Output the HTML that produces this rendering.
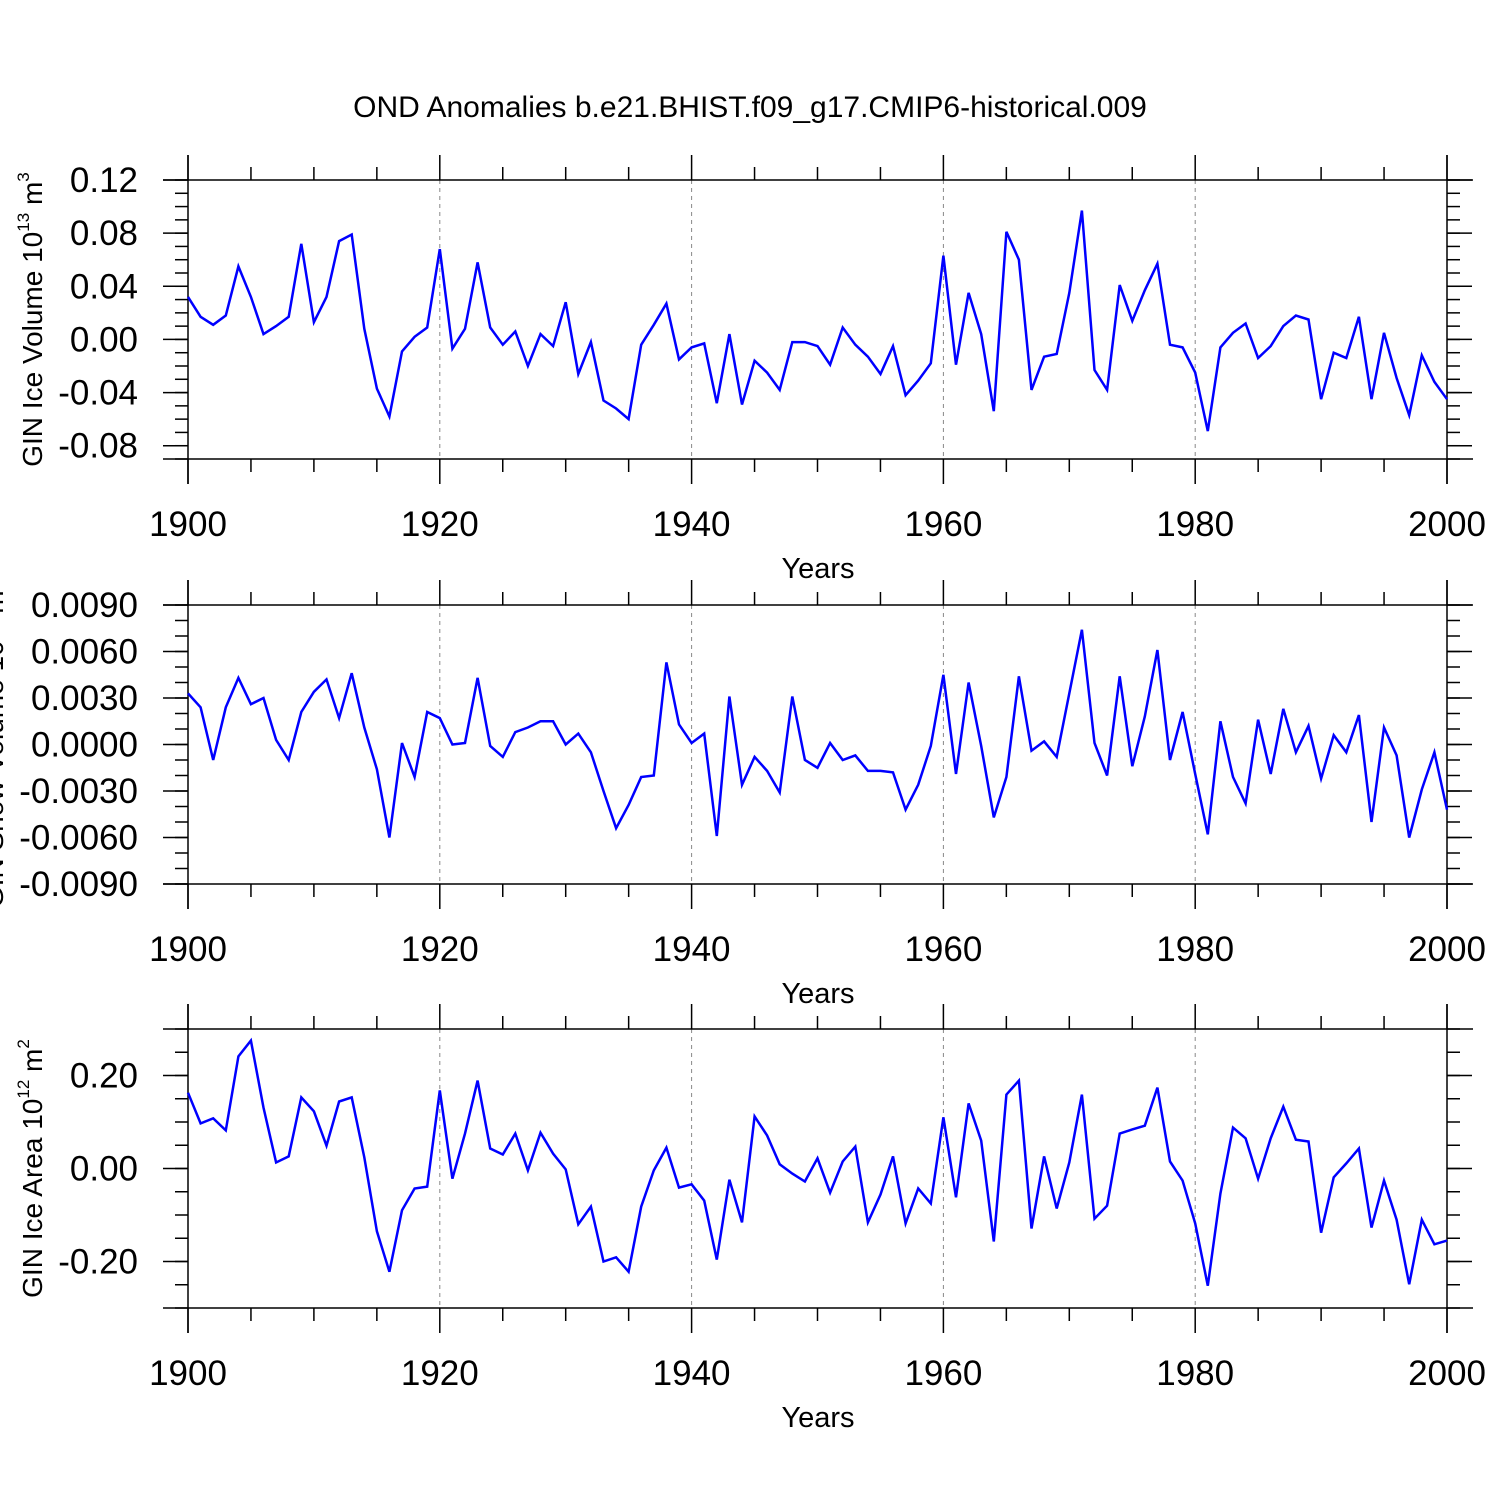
<!DOCTYPE html>
<html><head><meta charset="utf-8"><style>
html,body{margin:0;padding:0;background:#fff;}
svg{display:block;font-family:"Liberation Sans",Arial,sans-serif;}
</style></head><body>
<svg id="chart" width="1500" height="1500" viewBox="0 0 1500 1500" xmlns="http://www.w3.org/2000/svg">
<rect width="1500" height="1500" fill="#fff"/>
<text x="750" y="117" font-size="30" text-anchor="middle">OND Anomalies b.e21.BHIST.f09_g17.CMIP6-historical.009</text>
</svg>
<script>
const years = [];
for (let y = 1900; y <= 2000; y++) years.push(y);
const iceVolume = [0.032,0.017,0.011,0.018,0.055,0.032,0.004,0.010,0.017,0.072,0.013,0.032,0.074,0.079,0.008,-0.037,-0.058,-0.009,0.002,0.009,0.068,-0.007,0.008,0.058,0.009,-0.004,0.006,-0.020,0.004,-0.005,0.028,-0.026,-0.002,-0.046,-0.052,-0.060,-0.004,0.011,0.027,-0.015,-0.006,-0.003,-0.048,0.004,-0.049,-0.016,-0.025,-0.038,-0.002,-0.002,-0.005,-0.019,0.009,-0.004,-0.013,-0.026,-0.005,-0.042,-0.031,-0.018,0.063,-0.019,0.035,0.004,-0.054,0.081,0.060,-0.038,-0.013,-0.011,0.035,0.097,-0.023,-0.038,0.041,0.014,0.037,0.057,-0.004,-0.006,-0.025,-0.069,-0.006,0.005,0.012,-0.014,-0.005,0.010,0.018,0.015,-0.045,-0.010,-0.014,0.017,-0.045,0.005,-0.029,-0.057,-0.012,-0.032,-0.045];
const snowVolume = [0.0033,0.0024,-0.0010,0.0024,0.0043,0.0026,0.0030,0.0003,-0.0010,0.0021,0.0034,0.0042,0.0017,0.0046,0.0011,-0.0016,-0.0060,0.0001,-0.0021,0.0021,0.0017,0.0000,0.0001,0.0043,-0.0001,-0.0008,0.0008,0.0011,0.0015,0.0015,0.0000,0.0007,-0.0005,-0.0030,-0.0054,-0.0039,-0.0021,-0.0020,0.0053,0.0013,0.0001,0.0007,-0.0059,0.0031,-0.0026,-0.0008,-0.0017,-0.0031,0.0031,-0.0010,-0.0015,0.0001,-0.0010,-0.0007,-0.0017,-0.0017,-0.0018,-0.0042,-0.0026,-0.0001,0.0045,-0.0019,0.0040,-0.0001,-0.0047,-0.0021,0.0044,-0.0004,0.0002,-0.0008,0.0033,0.0074,0.0001,-0.0020,0.0044,-0.0014,0.0018,0.0061,-0.0010,0.0021,-0.0019,-0.0058,0.0015,-0.0021,-0.0038,0.0016,-0.0019,0.0023,-0.0005,0.0012,-0.0022,0.0006,-0.0005,0.0019,-0.0050,0.0011,-0.0007,-0.0060,-0.0029,-0.0005,-0.0042];
const iceArea = [0.163,0.097,0.108,0.082,0.241,0.275,0.131,0.013,0.026,0.153,0.123,0.049,0.144,0.153,0.024,-0.135,-0.222,-0.090,-0.043,-0.039,0.168,-0.022,0.075,0.189,0.043,0.030,0.075,-0.004,0.077,0.032,-0.002,-0.120,-0.082,-0.200,-0.191,-0.222,-0.082,-0.004,0.045,-0.041,-0.034,-0.069,-0.196,-0.024,-0.116,0.112,0.071,0.009,-0.011,-0.028,0.022,-0.052,0.015,0.047,-0.116,-0.056,0.026,-0.118,-0.043,-0.075,0.110,-0.062,0.140,0.060,-0.157,0.159,0.189,-0.129,0.026,-0.086,0.013,0.159,-0.108,-0.080,0.075,0.084,0.092,0.174,0.015,-0.026,-0.118,-0.252,-0.054,0.088,0.065,-0.022,0.065,0.133,0.062,0.058,-0.138,-0.019,0.011,0.043,-0.127,-0.026,-0.110,-0.249,-0.110,-0.163,-0.155];
const xTickLabels = ["1900","1920","1940","1960","1980","2000"];
const yTicks1 = [0.12,0.08,0.04,0.00,-0.04,-0.08];
const yTickLabels1 = ["0.12","0.08","0.04","0.00","-0.04","-0.08"];
const yTicks2 = [0.009,0.006,0.003,0,-0.003,-0.006,-0.009];
const yTickLabels2 = ["0.0090","0.0060","0.0030","0.0000","-0.0030","-0.0060","-0.0090"];
const yTicks3 = [0.2,0,-0.2];
const yTickLabels3 = ["0.20","0.00","-0.20"];

const NS = "http://www.w3.org/2000/svg";
const svg = document.getElementById('chart');
function mk(tag, attrs, parent) {
  const e = document.createElementNS(NS, tag);
  for (const k in attrs) e.setAttribute(k, attrs[k]);
  (parent || svg).appendChild(e);
  return e;
}
const X0 = 188, X1 = 1447;
const xScale = yr => X0 + (yr - 1900) / 100 * (X1 - X0);

function panel(cfg) {
  const g = mk('g', {});
  
  
  const yScale = v => cfg.top + (cfg.ymax - v) / (cfg.ymax - cfg.ymin) * (cfg.bot - cfg.top);
  const st = {stroke: '#000', 'stroke-width': 1.5};
  for (let yr = 1920; yr <= 1980; yr += 20) {
    const l = mk('line', {x1: xScale(yr), x2: xScale(yr), y1: cfg.top, y2: cfg.bot, stroke: '#888', 'stroke-width': 1, 'stroke-dasharray': '4,4'}, g);
    
    
  }
  mk('line', Object.assign({x1: 163, x2: 1473, y1: cfg.top, y2: cfg.top}, st), g);
  mk('line', Object.assign({x1: 163, x2: 1473, y1: cfg.bot, y2: cfg.bot}, st), g);
  mk('line', Object.assign({x1: X0, x2: X0, y1: cfg.top - 25, y2: cfg.bot + 25}, st), g);
  mk('line', Object.assign({x1: X1, x2: X1, y1: cfg.top - 25, y2: cfg.bot + 25}, st), g);
  for (let yr = 1900; yr <= 2000; yr += 5) {
    const major = yr % 20 === 0;
    const len = major ? 25 : 13;
    mk('line', Object.assign({x1: xScale(yr), x2: xScale(yr), y1: cfg.top, y2: cfg.top - len}, st), g);
    mk('line', Object.assign({x1: xScale(yr), x2: xScale(yr), y1: cfg.bot, y2: cfg.bot + len}, st), g);
  }
  const nMin = Math.round((cfg.ymax - cfg.ymin) / cfg.minor);
  for (let i = 0; i <= nMin; i++) {
    const v = cfg.ymin + i * cfg.minor;
    const y = yScale(v);
    mk('line', Object.assign({x1: X0 - 13, x2: X0, y1: y, y2: y}, st), g);
    mk('line', Object.assign({x1: X1, x2: X1 + 13, y1: y, y2: y}, st), g);
  }
  cfg.ticks.forEach((v, i) => {
    const y = yScale(v);
    mk('line', Object.assign({x1: X0 - 25, x2: X0, y1: y, y2: y}, st), g);
    mk('line', Object.assign({x1: X1, x2: X1 + 25, y1: y, y2: y}, st), g);
    const t = mk('text', {x: 138, y: y + 12, 'font-size': 35, 'text-anchor': 'end'}, g);
    
    
    t.textContent = cfg.labels[i];
  });
  xTickLabels.forEach(lab => {
    const t = mk('text', {x: xScale(+lab), y: cfg.bot + 77, 'font-size': 35, 'text-anchor': 'middle'}, g);
    
    
    t.textContent = lab;
  });
  const xt = mk('text', {x: 818, y: cfg.bot + 119, 'font-size': 29, 'text-anchor': 'middle'}, g);
  
  
  xt.textContent = 'Years';
  const cy = (cfg.top + cfg.bot) / 2;
  const yt = mk('text', {x: 0, y: 0, 'font-size': 28, 'text-anchor': 'middle', transform: 'translate(' + cfg.ytx + ',' + cy + ') rotate(-90)'}, g);
  
  
  yt.innerHTML = cfg.ytitle;
  const pts = cfg.data.map((v, i) => xScale(years[i]).toFixed(1) + ',' + yScale(v).toFixed(1)).join(' ');
  const pl = mk('polyline', {points: pts, fill: 'none', stroke: '#0000ff', 'stroke-width': 2.5, 'stroke-linejoin': 'miter'}, g);
  
  
}

panel({name: 'ice-volume-panel', top: 180, bot: 459, ymax: 0.12, ymin: -0.09, minor: 0.01, ticks: yTicks1, labels: yTickLabels1, data: iceVolume, ytx: 42,
  ytitle: 'GIN Ice Volume 10<tspan font-size="17" dy="-13">13</tspan><tspan dy="13"> m</tspan><tspan font-size="17" dy="-13">3</tspan>'});
panel({name: 'snow-volume-panel', top: 605, bot: 884, ymax: 0.009, ymin: -0.009, minor: 0.001, ticks: yTicks2, labels: yTickLabels2, data: snowVolume, ytx: 3,
  ytitle: 'GIN Snow Volume 10<tspan font-size="17" dy="-13">13</tspan><tspan dy="13"> m</tspan><tspan font-size="17" dy="-13">3</tspan>'});
panel({name: 'ice-area-panel', top: 1029, bot: 1308, ymax: 0.3, ymin: -0.3, minor: 0.05, ticks: yTicks3, labels: yTickLabels3, data: iceArea, ytx: 42,
  ytitle: 'GIN Ice Area 10<tspan font-size="17" dy="-13">12</tspan><tspan dy="13"> m</tspan><tspan font-size="17" dy="-13">2</tspan>'});
</script>
</body></html>
